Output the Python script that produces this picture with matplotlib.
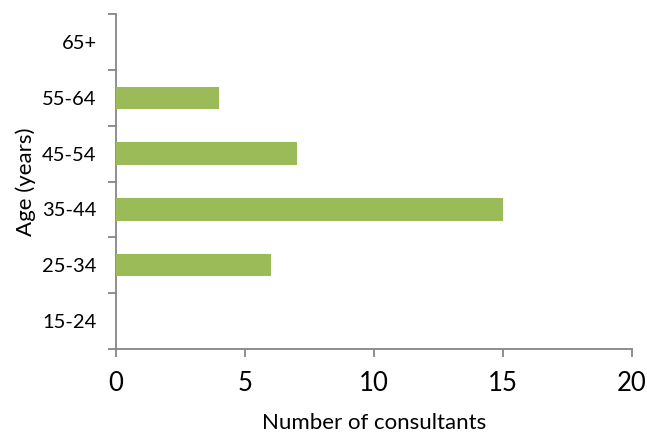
import matplotlib
matplotlib.use("Agg")
import matplotlib.pyplot as plt
import numpy as np

categories = ["15-24", "25-34", "35-44", "45-54", "55-64", "65+"]
values = [0, 6, 15, 7, 4, 0]
x_ticks = [0, 5, 10, 15, 20]

plt.rcParams['font.family'] = ['Lato', 'DejaVu Sans']

fig = plt.figure(figsize=(6.47, 4.32), dpi=100)
ax = fig.add_axes([116/647, 1-349/432, (632-116)/647, (349-14)/432])

y = np.arange(len(categories))
ax.barh(y, values, height=0.4, color="#9BBB59", edgecolor="none", zorder=3)

ax.set_xlim(0, 20)
ax.set_ylim(-0.5, len(categories) - 0.5)
ax.set_xticks(x_ticks)
ax.set_xticklabels([str(t) for t in x_ticks], fontsize=18.5)
ax.set_yticks(y)
ax.set_yticklabels(categories, fontsize=14.5)
ax.tick_params(axis='y', which='major', length=0, pad=14)
ax.set_yticks(np.arange(len(categories) + 1) - 0.5, minor=True)
ax.tick_params(axis='y', which='minor', length=6, color="#868686", width=1.3, direction='out')
ax.tick_params(axis='x', which='major', length=6, color="#868686", width=1.3, direction='out', pad=10)

for s in ['top', 'right']:
    ax.spines[s].set_visible(False)
for s in ['left', 'bottom']:
    ax.spines[s].set_color("#868686")
    ax.spines[s].set_linewidth(1.3)

ax.set_xlabel("Number of consultants", fontsize=16, labelpad=12)
ax.set_ylabel("Age (years)", fontsize=16, labelpad=4)

fig.savefig("out.png", dpi=100)
